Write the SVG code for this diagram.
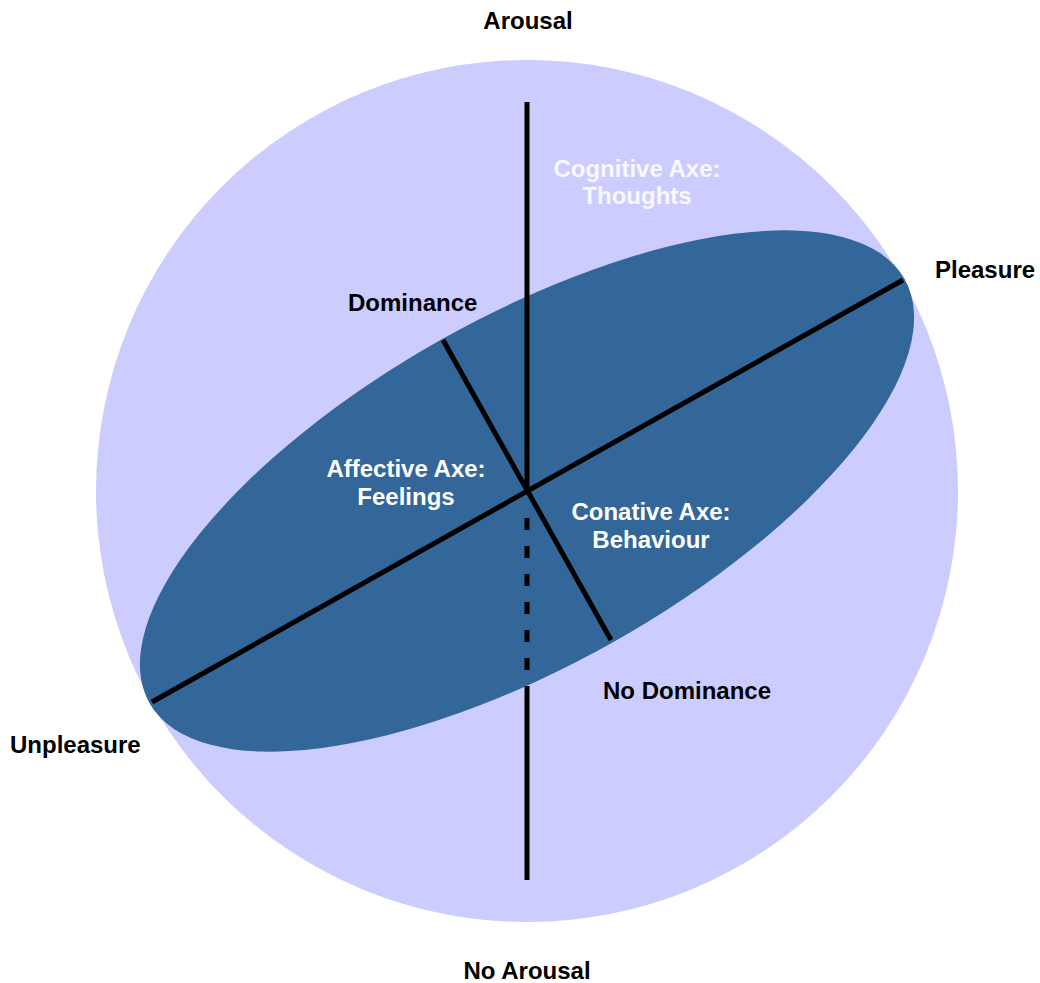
<svg xmlns="http://www.w3.org/2000/svg" width="1040" height="983" viewBox="0 0 1040 983">
<style>
.lbl{font-family:"Liberation Sans",Arial,sans-serif;font-weight:bold;font-size:24px;fill:#000}
.in{fill:#fff;text-anchor:middle}
.cog{fill:#f8f8ff;text-anchor:middle}
.ax{stroke:#000;stroke-width:5;fill:none}
</style>
<rect width="1040" height="983" fill="#fff"/>
<g id="sphere"><circle cx="527" cy="491" r="431" fill="#ccccff"/></g>
<g id="disc"><ellipse cx="527" cy="491" rx="433" ry="174" transform="rotate(-29.3 527 491)" fill="#336699"/></g>
<g id="connectors">
<line class="ax" x1="527" y1="102" x2="527" y2="494"/>
<line class="ax" x1="527" y1="518" x2="527" y2="687" stroke-dasharray="12 16"/>
<line class="ax" x1="527" y1="687" x2="527" y2="880"/>
<line class="ax" x1="152" y1="702" x2="903" y2="280"/>
<line class="ax" x1="443" y1="340" x2="611" y2="640"/>
</g>
<g id="arousal"><text class="lbl" x="528" y="29" text-anchor="middle">Arousal</text></g>
<g id="no-arousal"><text class="lbl" x="527" y="979" text-anchor="middle">No Arousal</text></g>
<g id="pleasure"><text class="lbl" x="935" y="278">Pleasure</text></g>
<g id="unpleasure"><text class="lbl" x="10" y="753">Unpleasure</text></g>
<g id="dominance"><text class="lbl" x="348" y="311">Dominance</text></g>
<g id="no-dominance"><text class="lbl" x="603" y="699">No Dominance</text></g>
<g id="cognitive"><text class="lbl cog" x="637" y="177">Cognitive Axe:</text><text class="lbl cog" x="637" y="204">Thoughts</text></g>
<g id="affective"><text class="lbl in" x="406" y="477">Affective Axe:</text><text class="lbl in" x="406" y="505">Feelings</text></g>
<g id="conative"><text class="lbl in" x="651" y="520">Conative Axe:</text><text class="lbl in" x="651" y="548">Behaviour</text></g>
</svg>
